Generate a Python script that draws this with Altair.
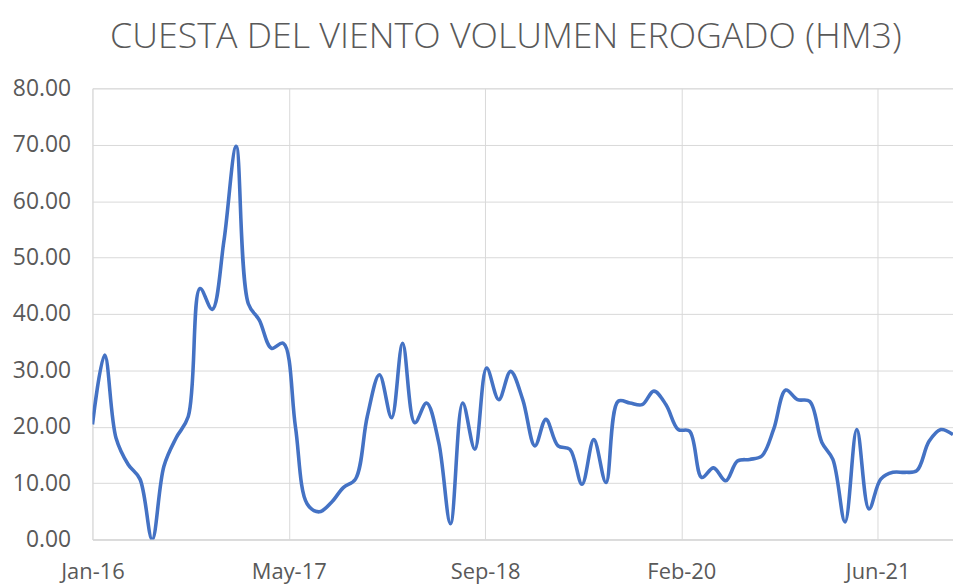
import altair as alt
import pandas as pd

title_text = "CUESTA DEL VIENTO VOLUMEN EROGADO (HM3)"

start_month = "2016-01-01"
end_month = "2022-01-01"

values = [
    # 2016
    20.4, 32.7, 18.0, 13.3, 10.7, 0.0, 13.0, 18.0, 21.8, 44.5, 40.8, 53.0,
    # 2017
    69.7, 41.8, 38.9, 33.9, 34.8, 20.0, 6.3, 4.9, 6.6, 9.2, 10.7, 21.8,
    # 2018
    29.2, 21.6, 34.8, 20.7, 24.2, 17.2, 2.8, 24.2, 16.0, 30.4, 24.8, 29.8,
    # 2019
    24.8, 16.6, 21.3, 16.6, 16.0, 9.8, 17.7, 10.1, 24.5, 24.2, 23.9, 26.3,
    # 2020
    23.9, 19.5, 19.2, 11.0, 12.7, 10.4, 13.9, 14.2, 14.8, 19.5, 26.5, 24.8,
    # 2021
    24.5, 17.2, 14.2, 3.1, 19.5, 5.4, 10.7, 11.9, 11.9, 12.2, 17.4, 19.5,
    # 2022
    18.6,
]

x_tick_dates = ["2016-01-01", "2017-05-15", "2018-09-27", "2020-02-09", "2021-06-23"]
y_ticks = [0, 10, 20, 30, 40, 50, 60, 70, 80]

dates = pd.date_range(start_month, end_month, freq="MS")
df = pd.DataFrame({"date": dates.strftime("%Y-%m-%d"), "value": values})

x_tick_ms = [int(pd.Timestamp(d, tz="UTC").timestamp() * 1000) for d in x_tick_dates]
dom = [int(pd.Timestamp(start_month, tz="UTC").timestamp() * 1000),
       int(pd.Timestamp(end_month, tz="UTC").timestamp() * 1000)]

label_color = "#595959"
grid_color = "#d9d9d9"
font = "Open Sans"

chart = alt.Chart(df).mark_line(
    color="#4472C4", strokeWidth=3.6, interpolate="catmull-rom", clip=True
).encode(
    x=alt.X(
        "date:T",
        scale=alt.Scale(type="utc", domain=dom, nice=False),
        axis=alt.Axis(
            values=x_tick_ms, labelExpr="utcFormat(datum.value, '%b-%y')", title=None,
            grid=True, gridColor=grid_color, gridWidth=1,
            domain=True, domainColor=grid_color, domainWidth=1.5,
            ticks=False, labelFont=font, labelFontSize=22, labelColor=label_color,
            labelPadding=22, labelFlush=False, labelOverlap=False,
        ),
    ),
    y=alt.Y(
        "value:Q",
        scale=alt.Scale(domain=[0, 80], nice=False),
        axis=alt.Axis(
            values=y_ticks, format=".2f", title=None,
            grid=True, gridColor=grid_color, gridWidth=1,
            domain=False, ticks=False, labelFont=font, labelFontSize=23,
            labelColor=label_color, labelPadding=22,
        ),
    ),
).properties(
    width=866,
    height=454,
    title=alt.TitleParams(
        text=title_text, font=font, fontSize=36, fontWeight=300,
        color=label_color, anchor="middle", offset=22, dx=-17,
    ),
    autosize=alt.AutoSizeParams(type="none"),
    padding={"left": 85, "top": 79, "right": 0, "bottom": 45},
).configure_view(stroke=None).configure(background="white")

chart.save("out.html", embed_options={"renderer": "svg", "actions": False})
